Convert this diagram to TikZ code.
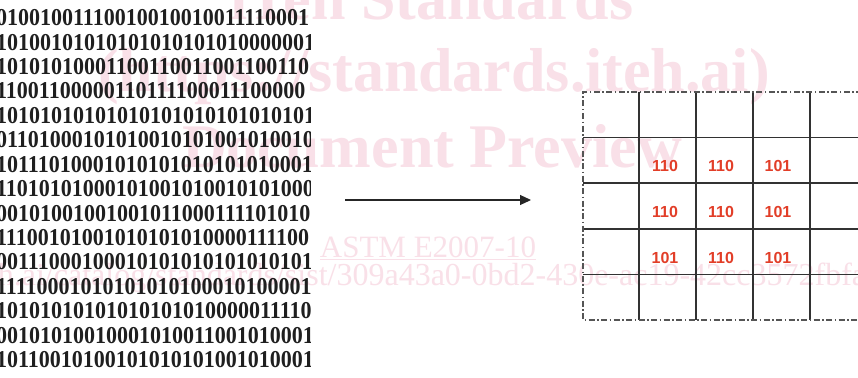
\documentclass[tikz,border=0pt]{standalone}
\usepackage{fontspec}
\setmainfont{Liberation Serif}
\newfontfamily\arialfont{Liberation Sans}
\usetikzlibrary{arrows.meta}
\definecolor{wm}{RGB}{249,224,232}
\definecolor{numred}{RGB}{226,62,40}
\definecolor{gridc}{RGB}{50,50,50}
\definecolor{borderc}{RGB}{85,85,85}
\begin{document}
\begin{tikzpicture}[x=1pt,y=-1pt,
  wmbold/.style={text=wm,font=\fontsize{62}{62}\selectfont\bfseries,inner sep=0pt,anchor=base},
  wmreg/.style={text=wm,inner sep=0pt},
  bitline/.style={inner sep=0pt,anchor=base west,font=\fontsize{22}{22}\selectfont\bfseries,text=black!88},
  gridline/.style={draw=gridc,line width=1.1pt},
  dashdotline/.style={draw=borderc,line width=1.1pt,dash pattern=on 6pt off 2.5pt on 1.5pt off 2.5pt},
  num/.style={inner sep=0pt,anchor=base,text=numred,font=\arialfont\bfseries\fontsize{16}{16}\selectfont},
  arrowline/.style={draw=black!85,line width=1.1pt,-{Triangle[length=11pt,width=10pt]}}]
\useasboundingbox (0,0) rectangle (858,377);
\fill[white] (0,0) rectangle (858,377);
\clip (0,0) rectangle (858,377);
% watermark
\node[wmbold] (wm1) at (432,20) {iTeh Standards};
\node[wmbold] (wm2) at (434,92) {(https://standards.iteh.ai)};
\node[wmbold] (wm3) at (432,167) {Document Preview};
\node[wmreg,anchor=base,font=\fontsize{31}{31}\selectfont] (wm4) at (428,257) {\underline{ASTM E2007-10}};
\node[wmreg,anchor=base west,font=\fontsize{32}{32}\selectfont] (wm5) at (306,285)
  {\llap{https://standards.iteh.ai/catalog/standards/si}st/309a43a0-0bd2-430e-ac19-42cc3572fbfa/astm-e2007-10};
% binary block
\begin{scope}
\clip (0,0) rectangle (310,377);
\foreach \t [count=\i] in {
01001001110010010010011110001,
10100101010101010101010000001,
10101010001100110011001100110,
11001100000110111100011100000,
10101010101010101010101010101,
01101000101010010101001010010,
10111010001010101010101010001,
11010101000101001010010101000,
00101001001001011000111101010,
11100101001010101010000111100,
00111000100010101010101010101,
11110001010101010100010100001,
10101010101010101010000011110,
00101010010001010011001010001,
10110010100101010101001010001}
  \node[bitline] (b\i) at (-4,{25.6+24.43*(\i-1)}) {\scalebox{1}[1.1]{\t}};
\end{scope}
% arrow
\coordinate (aS) at (345,200);
\coordinate (aE) at (531,200);
\draw[arrowline] (aS) -- (aE);
% grid
\foreach \x in {639,696,753,810}
  \draw[gridline] (\x,92) -- (\x,320);
\foreach \y in {137.5,183,229,274.5}
  \draw[gridline] (583,\y) -- (862,\y);
\coordinate (gTR) at (862,92);
\coordinate (gTL) at (583,92);
\coordinate (gBL) at (583,320);
\coordinate (gBR) at (862,320);
\draw[dashdotline] (gTR) -- (gTL) -- (gBL) -- (gBR);
% numbers
\node[num] (n11) at (665,171.5) {110};
\node[num] (n12) at (721,171.5) {110};
\node[num] (n13) at (778,171.5) {101};
\node[num] (n21) at (665,217) {110};
\node[num] (n22) at (721,217) {110};
\node[num] (n23) at (778,217) {101};
\node[num] (n31) at (665,263) {101};
\node[num] (n32) at (721,263) {110};
\node[num] (n33) at (778,263) {101};
\end{tikzpicture}
\end{document}
